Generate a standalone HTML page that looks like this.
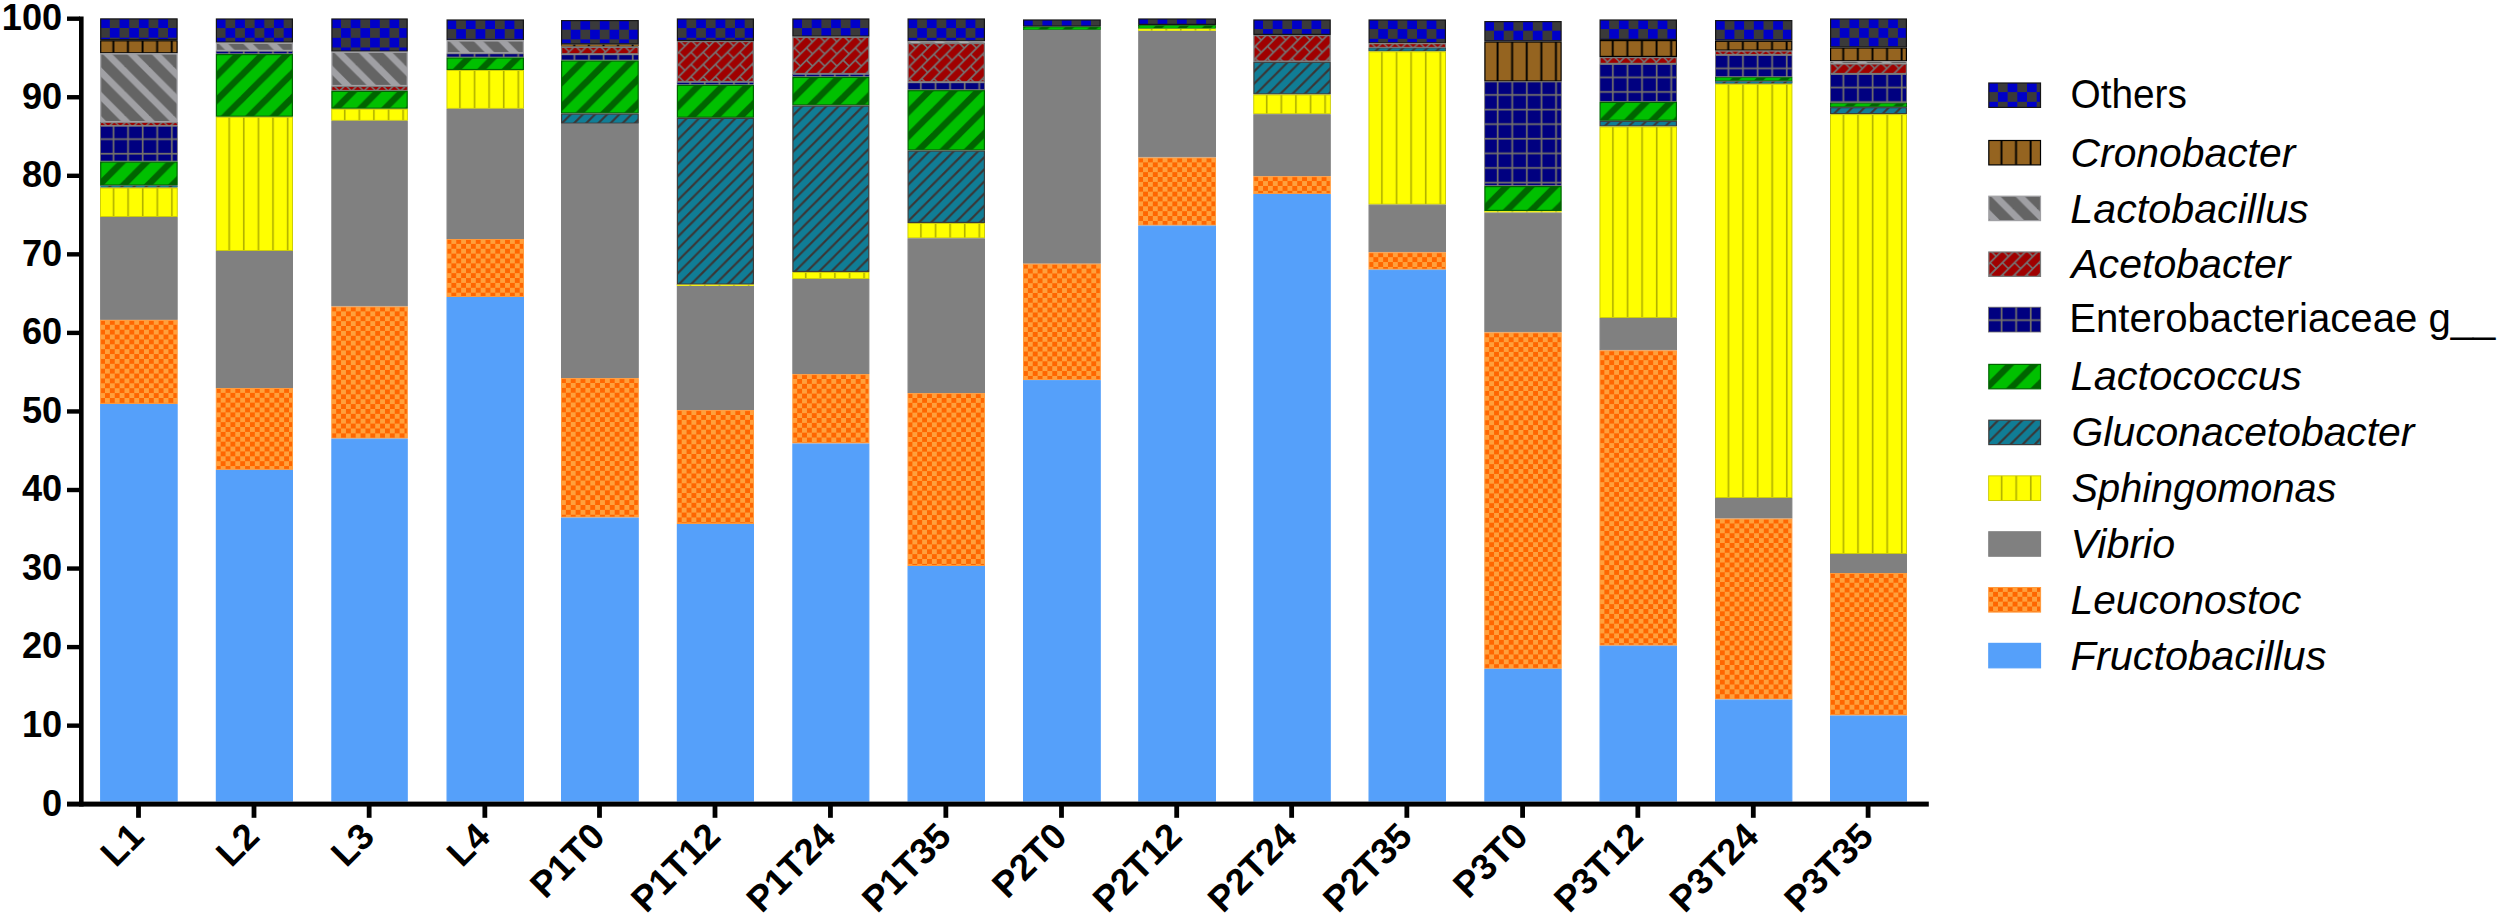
<!DOCTYPE html>
<html lang="en">
<head>
<meta charset="utf-8">
<title>Relative abundance of bacterial genera</title>
<style>
html,body{margin:0;padding:0;background:#fff;}
body{width:2500px;height:917px;overflow:hidden;font-family:"Liberation Sans",Arial,sans-serif;}
svg{display:block;}
</style>
</head>
<body>
<svg width="2500" height="917" viewBox="0 0 2500 917" role="img" aria-label="Stacked bar chart of relative abundance of bacterial genera">
<defs><pattern id="pO" patternUnits="userSpaceOnUse" width="19.4" height="19.4"><rect width="19.4" height="19.4" fill="#3a3a3a"/><rect x="0" y="0" width="9.7" height="9.7" fill="#0000c8"/><rect x="9.7" y="9.7" width="9.7" height="9.7" fill="#0000c8"/></pattern><pattern id="pCr" patternUnits="userSpaceOnUse" width="14.6" height="14.6"><rect width="14.6" height="14.6" fill="#956420"/><rect x="12.3" y="0" width="1.9" height="14.6" fill="#000"/></pattern><pattern id="pLb" patternUnits="userSpaceOnUse" width="24.4" height="24.4"><rect width="24.4" height="24.4" fill="#646464"/><polygon points="-24.40,22.40 48.80,95.60 48.80,86.20 -24.40,13.00" fill="#a0a0a4"/><polygon points="-24.40,-2.00 48.80,71.20 48.80,61.80 -24.40,-11.40" fill="#a0a0a4"/><polygon points="-24.40,-26.40 48.80,46.80 48.80,37.40 -24.40,-35.80" fill="#a0a0a4"/><polygon points="-24.40,-50.80 48.80,22.40 48.80,13.00 -24.40,-60.20" fill="#a0a0a4"/></pattern><pattern id="pAc" patternUnits="userSpaceOnUse" width="24.4" height="24.4"><rect width="24.4" height="24.4" fill="#a00000"/><g stroke="#747474" stroke-width="1.65" stroke-linecap="butt"><line x1="-24.40" y1="13.20" x2="48.80" y2="-60.00"/><line x1="-24.40" y1="25.40" x2="48.80" y2="-47.80"/><line x1="-24.40" y1="37.60" x2="48.80" y2="-35.60"/><line x1="-24.40" y1="49.80" x2="48.80" y2="-23.40"/><line x1="-24.40" y1="62.00" x2="48.80" y2="-11.20"/><line x1="-24.40" y1="74.20" x2="48.80" y2="1.00"/><line x1="2.00" y1="-1.00" x2="8.10" y2="5.10"/><line x1="2.00" y1="11.20" x2="8.10" y2="17.30"/><line x1="14.20" y1="-1.00" x2="20.30" y2="5.10"/><line x1="2.00" y1="23.40" x2="8.10" y2="29.50"/><line x1="14.20" y1="11.20" x2="20.30" y2="17.30"/><line x1="26.40" y1="-1.00" x2="32.50" y2="5.10"/><line x1="14.20" y1="23.40" x2="20.30" y2="29.50"/><line x1="26.40" y1="11.20" x2="32.50" y2="17.30"/><line x1="26.40" y1="23.40" x2="32.50" y2="29.50"/></g></pattern><pattern id="pEn" patternUnits="userSpaceOnUse" width="14.6" height="14.6"><rect width="14.6" height="14.6" fill="#000080"/><rect x="12.5" y="0" width="1.7" height="14.6" fill="#74726a"/><rect x="0" y="12.5" width="14.6" height="1.7" fill="#74726a"/></pattern><pattern id="pLc" patternUnits="userSpaceOnUse" width="24.4" height="24.4"><rect width="24.4" height="24.4" fill="#00c000"/><polygon points="-24.40,18.00 48.80,-55.20 48.80,-46.00 -24.40,27.20" fill="#006400"/><polygon points="-24.40,42.40 48.80,-30.80 48.80,-21.60 -24.40,51.60" fill="#006400"/><polygon points="-24.40,66.80 48.80,-6.40 48.80,2.80 -24.40,76.00" fill="#006400"/><polygon points="-24.40,91.20 48.80,18.00 48.80,27.20 -24.40,100.40" fill="#006400"/></pattern><pattern id="pGl" patternUnits="userSpaceOnUse" width="12.15" height="12.15"><rect width="12.15" height="12.15" fill="#107d96"/><polygon points="-12.15,9.20 24.30,-27.25 24.30,-24.35 -12.15,12.10" fill="#3a3636"/><polygon points="-12.15,21.35 24.30,-15.10 24.30,-12.20 -12.15,24.25" fill="#3a3636"/><polygon points="-12.15,33.50 24.30,-2.95 24.30,-0.05 -12.15,36.40" fill="#3a3636"/><polygon points="-12.15,45.65 24.30,9.20 24.30,12.10 -12.15,48.55" fill="#3a3636"/></pattern><pattern id="pSp" patternUnits="userSpaceOnUse" width="14.6" height="14.6"><rect width="14.6" height="14.6" fill="#ffff00"/><rect x="12.6" y="0" width="1.6" height="14.6" fill="#b0b000"/></pattern><pattern id="pLe" patternUnits="userSpaceOnUse" width="9.76" height="9.76"><rect width="9.76" height="9.76" fill="#ffa03c"/><rect x="0" y="0" width="4.88" height="4.88" fill="#ff6600"/><rect x="4.88" y="4.88" width="4.88" height="4.88" fill="#ff6600"/></pattern></defs>
<g transform="translate(100.10,18.30)"><rect x="0.60" y="0.60" width="76.40" height="20.70" fill="url(#pO)" stroke="#161616" stroke-width="1.20"/></g>
<g transform="translate(100.10,40.20)"><rect x="0.60" y="0.60" width="76.40" height="12.00" fill="url(#pCr)" stroke="#000000" stroke-width="1.20"/></g>
<g transform="translate(100.10,53.40)"><rect x="0.60" y="0.60" width="76.40" height="67.60" fill="url(#pLb)" stroke="#a0a0a4" stroke-width="1.20"/></g>
<g transform="translate(100.10,122.20)"><rect x="0.36" y="0.36" width="76.88" height="2.88" fill="url(#pAc)" stroke="#7a7a7a" stroke-width="0.72"/></g>
<g transform="translate(100.10,125.80)"><rect x="0.40" y="0.40" width="76.80" height="34.90" fill="url(#pEn)" stroke="#706e6c" stroke-width="0.80"/></g>
<g transform="translate(100.10,161.50)"><rect x="0.60" y="0.60" width="76.40" height="22.90" fill="url(#pLc)" stroke="#006400" stroke-width="1.20"/></g>
<g transform="translate(100.10,185.60)"><rect x="0.20" y="0.20" width="77.20" height="1.60" fill="url(#pGl)" stroke="#3c3c3c" stroke-width="0.40"/></g>
<g transform="translate(100.10,187.60)"><rect x="0.45" y="0.45" width="76.70" height="28.50" fill="url(#pSp)" stroke="#c8c800" stroke-width="0.90"/></g>
<g transform="translate(100.10,217.00)"><rect x="0.60" y="0.60" width="76.40" height="101.70" fill="#808080" stroke="#808080" stroke-width="1.20"/></g>
<g transform="translate(100.10,319.90)"><rect x="0.50" y="0.50" width="76.60" height="83.10" fill="url(#pLe)" stroke="#ff9a3c" stroke-width="1.00"/></g>
<g transform="translate(100.10,404.00)"><rect x="0.60" y="0.60" width="76.40" height="396.40" fill="#55a0fa" stroke="#55a0fa" stroke-width="1.20"/></g>
<g transform="translate(215.80,18.40)"><rect x="0.60" y="0.60" width="76.00" height="23.10" fill="url(#pO)" stroke="#161616" stroke-width="1.20"/></g>
<g transform="translate(215.80,42.70)"><rect x="0.60" y="0.60" width="76.00" height="7.10" fill="url(#pLb)" stroke="#a0a0a4" stroke-width="1.20"/></g>
<g transform="translate(215.80,51.00)"><rect x="0.30" y="0.30" width="76.60" height="2.40" fill="url(#pEn)" stroke="#706e6c" stroke-width="0.60"/></g>
<g transform="translate(215.80,54.00)"><rect x="0.60" y="0.60" width="76.00" height="61.60" fill="url(#pLc)" stroke="#006400" stroke-width="1.20"/></g>
<g transform="translate(215.80,116.80)"><rect x="0.45" y="0.45" width="76.30" height="133.30" fill="url(#pSp)" stroke="#c8c800" stroke-width="0.90"/></g>
<g transform="translate(215.80,251.00)"><rect x="0.60" y="0.60" width="76.00" height="135.80" fill="#808080" stroke="#808080" stroke-width="1.20"/></g>
<g transform="translate(215.80,388.00)"><rect x="0.50" y="0.50" width="76.20" height="80.90" fill="url(#pLe)" stroke="#ff9a3c" stroke-width="1.00"/></g>
<g transform="translate(215.80,469.90)"><rect x="0.60" y="0.60" width="76.00" height="330.50" fill="#55a0fa" stroke="#55a0fa" stroke-width="1.20"/></g>
<g transform="translate(331.30,18.40)"><rect x="0.60" y="0.60" width="75.30" height="32.10" fill="url(#pO)" stroke="#161616" stroke-width="1.20"/></g>
<g transform="translate(331.30,51.70)"><rect x="0.60" y="0.60" width="75.30" height="33.20" fill="url(#pLb)" stroke="#a0a0a4" stroke-width="1.20"/></g>
<g transform="translate(331.30,86.10)"><rect x="0.47" y="0.47" width="75.56" height="3.76" fill="url(#pAc)" stroke="#7a7a7a" stroke-width="0.94"/></g>
<g transform="translate(331.30,90.80)"><rect x="0.60" y="0.60" width="75.30" height="16.80" fill="url(#pLc)" stroke="#006400" stroke-width="1.20"/></g>
<g transform="translate(331.30,108.80)"><rect x="0.45" y="0.45" width="75.60" height="11.10" fill="url(#pSp)" stroke="#c8c800" stroke-width="0.90"/></g>
<g transform="translate(331.30,120.80)"><rect x="0.60" y="0.60" width="75.30" height="184.50" fill="#808080" stroke="#808080" stroke-width="1.20"/></g>
<g transform="translate(331.30,306.50)"><rect x="0.50" y="0.50" width="75.50" height="131.10" fill="url(#pLe)" stroke="#ff9a3c" stroke-width="1.00"/></g>
<g transform="translate(331.30,438.60)"><rect x="0.60" y="0.60" width="75.30" height="361.80" fill="#55a0fa" stroke="#55a0fa" stroke-width="1.20"/></g>
<g transform="translate(446.50,19.40)"><rect x="0.60" y="0.60" width="76.30" height="19.80" fill="url(#pO)" stroke="#161616" stroke-width="1.20"/></g>
<g transform="translate(446.50,40.40)"><rect x="0.60" y="0.60" width="76.30" height="11.80" fill="url(#pLb)" stroke="#a0a0a4" stroke-width="1.20"/></g>
<g transform="translate(446.50,53.40)"><rect x="0.40" y="0.40" width="76.70" height="3.20" fill="url(#pEn)" stroke="#706e6c" stroke-width="0.80"/></g>
<g transform="translate(446.50,57.40)"><rect x="0.60" y="0.60" width="76.30" height="11.50" fill="url(#pLc)" stroke="#006400" stroke-width="1.20"/></g>
<g transform="translate(446.50,70.10)"><rect x="0.45" y="0.45" width="76.60" height="37.80" fill="url(#pSp)" stroke="#c8c800" stroke-width="0.90"/></g>
<g transform="translate(446.50,108.80)"><rect x="0.60" y="0.60" width="76.30" height="129.00" fill="#808080" stroke="#808080" stroke-width="1.20"/></g>
<g transform="translate(446.50,239.00)"><rect x="0.50" y="0.50" width="76.50" height="57.00" fill="url(#pLe)" stroke="#ff9a3c" stroke-width="1.00"/></g>
<g transform="translate(446.50,297.00)"><rect x="0.60" y="0.60" width="76.30" height="503.40" fill="#55a0fa" stroke="#55a0fa" stroke-width="1.20"/></g>
<g transform="translate(561.00,20.00)"><rect x="0.60" y="0.60" width="76.60" height="23.20" fill="url(#pO)" stroke="#161616" stroke-width="1.20"/></g>
<g transform="translate(561.00,44.40)"><rect x="0.23" y="0.23" width="77.34" height="1.84" fill="url(#pCr)" stroke="#000000" stroke-width="0.46"/></g>
<g transform="translate(561.00,46.70)"><rect x="0.60" y="0.60" width="76.60" height="6.50" fill="url(#pAc)" stroke="#7a7a7a" stroke-width="1.20"/></g>
<g transform="translate(561.00,54.40)"><rect x="0.40" y="0.40" width="77.00" height="5.20" fill="url(#pEn)" stroke="#706e6c" stroke-width="0.80"/></g>
<g transform="translate(561.00,60.40)"><rect x="0.60" y="0.60" width="76.60" height="51.90" fill="url(#pLc)" stroke="#006400" stroke-width="1.20"/></g>
<g transform="translate(561.00,113.50)"><rect x="0.60" y="0.60" width="76.60" height="9.10" fill="url(#pGl)" stroke="#3c3c3c" stroke-width="1.20"/></g>
<g transform="translate(561.00,123.80)"><rect x="0.60" y="0.60" width="76.60" height="253.10" fill="#808080" stroke="#808080" stroke-width="1.20"/></g>
<g transform="translate(561.00,378.10)"><rect x="0.50" y="0.50" width="76.80" height="138.50" fill="url(#pLe)" stroke="#ff9a3c" stroke-width="1.00"/></g>
<g transform="translate(561.00,517.60)"><rect x="0.60" y="0.60" width="76.60" height="282.80" fill="#55a0fa" stroke="#55a0fa" stroke-width="1.20"/></g>
<g transform="translate(676.80,18.40)"><rect x="0.60" y="0.60" width="76.00" height="21.40" fill="url(#pO)" stroke="#161616" stroke-width="1.20"/></g>
<g transform="translate(676.80,41.00)"><rect x="0.60" y="0.60" width="76.00" height="39.90" fill="url(#pAc)" stroke="#7a7a7a" stroke-width="1.20"/></g>
<g transform="translate(676.80,82.10)"><rect x="0.27" y="0.27" width="76.66" height="2.16" fill="url(#pEn)" stroke="#706e6c" stroke-width="0.54"/></g>
<g transform="translate(676.80,84.80)"><rect x="0.60" y="0.60" width="76.00" height="31.80" fill="url(#pLc)" stroke="#006400" stroke-width="1.20"/></g>
<g transform="translate(676.80,117.80)"><rect x="0.60" y="0.60" width="76.00" height="165.70" fill="url(#pGl)" stroke="#3c3c3c" stroke-width="1.20"/></g>
<g transform="translate(676.80,284.70)"><rect x="0.13" y="0.13" width="76.94" height="1.04" fill="url(#pSp)" stroke="#c8c800" stroke-width="0.26"/></g>
<g transform="translate(676.80,286.00)"><rect x="0.60" y="0.60" width="76.00" height="122.90" fill="#808080" stroke="#808080" stroke-width="1.20"/></g>
<g transform="translate(676.80,410.10)"><rect x="0.50" y="0.50" width="76.20" height="112.90" fill="url(#pLe)" stroke="#ff9a3c" stroke-width="1.00"/></g>
<g transform="translate(676.80,524.00)"><rect x="0.60" y="0.60" width="76.00" height="276.40" fill="#55a0fa" stroke="#55a0fa" stroke-width="1.20"/></g>
<g transform="translate(792.30,18.40)"><rect x="0.60" y="0.60" width="75.90" height="17.10" fill="url(#pO)" stroke="#161616" stroke-width="1.20"/></g>
<g transform="translate(792.30,36.70)"><rect x="0.60" y="0.60" width="75.90" height="36.20" fill="url(#pAc)" stroke="#7a7a7a" stroke-width="1.20"/></g>
<g transform="translate(792.30,74.10)"><rect x="0.27" y="0.27" width="76.56" height="2.16" fill="url(#pEn)" stroke="#706e6c" stroke-width="0.54"/></g>
<g transform="translate(792.30,76.80)"><rect x="0.60" y="0.60" width="75.90" height="27.50" fill="url(#pLc)" stroke="#006400" stroke-width="1.20"/></g>
<g transform="translate(792.30,105.50)"><rect x="0.60" y="0.60" width="75.90" height="165.30" fill="url(#pGl)" stroke="#3c3c3c" stroke-width="1.20"/></g>
<g transform="translate(792.30,272.00)"><rect x="0.45" y="0.45" width="76.20" height="6.10" fill="url(#pSp)" stroke="#c8c800" stroke-width="0.90"/></g>
<g transform="translate(792.30,279.00)"><rect x="0.60" y="0.60" width="75.90" height="93.90" fill="#808080" stroke="#808080" stroke-width="1.20"/></g>
<g transform="translate(792.30,374.10)"><rect x="0.50" y="0.50" width="76.10" height="68.40" fill="url(#pLe)" stroke="#ff9a3c" stroke-width="1.00"/></g>
<g transform="translate(792.30,443.50)"><rect x="0.60" y="0.60" width="75.90" height="356.90" fill="#55a0fa" stroke="#55a0fa" stroke-width="1.20"/></g>
<g transform="translate(907.50,18.40)"><rect x="0.60" y="0.60" width="76.30" height="21.80" fill="url(#pO)" stroke="#161616" stroke-width="1.20"/></g>
<g transform="translate(907.50,41.40)"><rect x="0.16" y="0.16" width="77.18" height="1.28" fill="url(#pLb)" stroke="#a0a0a4" stroke-width="0.32"/></g>
<g transform="translate(907.50,43.00)"><rect x="0.60" y="0.60" width="76.30" height="38.20" fill="url(#pAc)" stroke="#7a7a7a" stroke-width="1.20"/></g>
<g transform="translate(907.50,82.40)"><rect x="0.40" y="0.40" width="76.70" height="6.90" fill="url(#pEn)" stroke="#706e6c" stroke-width="0.80"/></g>
<g transform="translate(907.50,90.10)"><rect x="0.60" y="0.60" width="76.30" height="59.20" fill="url(#pLc)" stroke="#006400" stroke-width="1.20"/></g>
<g transform="translate(907.50,150.50)"><rect x="0.60" y="0.60" width="76.30" height="71.30" fill="url(#pGl)" stroke="#3c3c3c" stroke-width="1.20"/></g>
<g transform="translate(907.50,223.00)"><rect x="0.45" y="0.45" width="76.60" height="14.40" fill="url(#pSp)" stroke="#c8c800" stroke-width="0.90"/></g>
<g transform="translate(907.50,238.30)"><rect x="0.60" y="0.60" width="76.30" height="153.60" fill="#808080" stroke="#808080" stroke-width="1.20"/></g>
<g transform="translate(907.50,393.10)"><rect x="0.50" y="0.50" width="76.50" height="171.90" fill="url(#pLe)" stroke="#ff9a3c" stroke-width="1.00"/></g>
<g transform="translate(907.50,566.00)"><rect x="0.60" y="0.60" width="76.30" height="234.40" fill="#55a0fa" stroke="#55a0fa" stroke-width="1.20"/></g>
<g transform="translate(1023.00,19.40)"><rect x="0.60" y="0.60" width="76.60" height="6.10" fill="url(#pO)" stroke="#161616" stroke-width="1.20"/></g>
<g transform="translate(1023.00,26.70)"><rect x="0.33" y="0.33" width="77.14" height="2.64" fill="url(#pLc)" stroke="#006400" stroke-width="0.66"/></g>
<g transform="translate(1023.00,30.00)"><rect x="0.60" y="0.60" width="76.60" height="232.50" fill="#808080" stroke="#808080" stroke-width="1.20"/></g>
<g transform="translate(1023.00,263.70)"><rect x="0.50" y="0.50" width="76.80" height="115.40" fill="url(#pLe)" stroke="#ff9a3c" stroke-width="1.00"/></g>
<g transform="translate(1023.00,380.10)"><rect x="0.60" y="0.60" width="76.60" height="420.30" fill="#55a0fa" stroke="#55a0fa" stroke-width="1.20"/></g>
<g transform="translate(1138.20,18.40)"><rect x="0.60" y="0.60" width="76.60" height="5.40" fill="url(#pO)" stroke="#161616" stroke-width="1.20"/></g>
<g transform="translate(1138.20,25.00)"><rect x="0.37" y="0.37" width="77.06" height="2.96" fill="url(#pLc)" stroke="#006400" stroke-width="0.74"/></g>
<g transform="translate(1138.20,28.70)"><rect x="0.23" y="0.23" width="77.34" height="1.84" fill="url(#pSp)" stroke="#c8c800" stroke-width="0.46"/></g>
<g transform="translate(1138.20,31.00)"><rect x="0.60" y="0.60" width="76.60" height="125.30" fill="#808080" stroke="#808080" stroke-width="1.20"/></g>
<g transform="translate(1138.20,157.50)"><rect x="0.50" y="0.50" width="76.80" height="67.10" fill="url(#pLe)" stroke="#ff9a3c" stroke-width="1.00"/></g>
<g transform="translate(1138.20,225.60)"><rect x="0.60" y="0.60" width="76.60" height="574.80" fill="#55a0fa" stroke="#55a0fa" stroke-width="1.20"/></g>
<g transform="translate(1253.30,19.40)"><rect x="0.60" y="0.60" width="76.30" height="14.40" fill="url(#pO)" stroke="#161616" stroke-width="1.20"/></g>
<g transform="translate(1253.30,35.00)"><rect x="0.60" y="0.60" width="76.30" height="25.50" fill="url(#pAc)" stroke="#7a7a7a" stroke-width="1.20"/></g>
<g transform="translate(1253.30,61.70)"><rect x="0.60" y="0.60" width="76.30" height="31.60" fill="url(#pGl)" stroke="#3c3c3c" stroke-width="1.20"/></g>
<g transform="translate(1253.30,94.50)"><rect x="0.45" y="0.45" width="76.60" height="18.80" fill="url(#pSp)" stroke="#c8c800" stroke-width="0.90"/></g>
<g transform="translate(1253.30,114.20)"><rect x="0.60" y="0.60" width="76.30" height="60.80" fill="#808080" stroke="#808080" stroke-width="1.20"/></g>
<g transform="translate(1253.30,176.20)"><rect x="0.50" y="0.50" width="76.50" height="16.80" fill="url(#pLe)" stroke="#ff9a3c" stroke-width="1.00"/></g>
<g transform="translate(1253.30,194.00)"><rect x="0.60" y="0.60" width="76.30" height="606.40" fill="#55a0fa" stroke="#55a0fa" stroke-width="1.20"/></g>
<g transform="translate(1368.50,19.40)"><rect x="0.60" y="0.60" width="76.30" height="22.80" fill="url(#pO)" stroke="#161616" stroke-width="1.20"/></g>
<g transform="translate(1368.50,43.40)"><rect x="0.43" y="0.43" width="76.64" height="3.44" fill="url(#pAc)" stroke="#7a7a7a" stroke-width="0.86"/></g>
<g transform="translate(1368.50,47.70)"><rect x="0.37" y="0.37" width="76.76" height="2.96" fill="url(#pGl)" stroke="#3c3c3c" stroke-width="0.74"/></g>
<g transform="translate(1368.50,51.40)"><rect x="0.45" y="0.45" width="76.60" height="152.30" fill="url(#pSp)" stroke="#c8c800" stroke-width="0.90"/></g>
<g transform="translate(1368.50,204.60)"><rect x="0.60" y="0.60" width="76.30" height="46.50" fill="#808080" stroke="#808080" stroke-width="1.20"/></g>
<g transform="translate(1368.50,252.30)"><rect x="0.50" y="0.50" width="76.50" height="16.40" fill="url(#pLe)" stroke="#ff9a3c" stroke-width="1.00"/></g>
<g transform="translate(1368.50,269.70)"><rect x="0.60" y="0.60" width="76.30" height="530.70" fill="#55a0fa" stroke="#55a0fa" stroke-width="1.20"/></g>
<g transform="translate(1484.30,21.00)"><rect x="0.60" y="0.60" width="76.20" height="19.20" fill="url(#pO)" stroke="#161616" stroke-width="1.20"/></g>
<g transform="translate(1484.30,41.40)"><rect x="0.60" y="0.60" width="76.20" height="39.00" fill="url(#pCr)" stroke="#000000" stroke-width="1.20"/></g>
<g transform="translate(1484.30,81.60)"><rect x="0.40" y="0.40" width="76.60" height="103.60" fill="url(#pEn)" stroke="#706e6c" stroke-width="0.80"/></g>
<g transform="translate(1484.30,186.00)"><rect x="0.60" y="0.60" width="76.20" height="23.80" fill="url(#pLc)" stroke="#006400" stroke-width="1.20"/></g>
<g transform="translate(1484.30,211.00)"><rect x="0.16" y="0.16" width="77.08" height="1.28" fill="url(#pSp)" stroke="#c8c800" stroke-width="0.32"/></g>
<g transform="translate(1484.30,212.60)"><rect x="0.60" y="0.60" width="76.20" height="118.60" fill="#808080" stroke="#808080" stroke-width="1.20"/></g>
<g transform="translate(1484.30,332.40)"><rect x="0.50" y="0.50" width="76.40" height="335.40" fill="url(#pLe)" stroke="#ff9a3c" stroke-width="1.00"/></g>
<g transform="translate(1484.30,668.80)"><rect x="0.60" y="0.60" width="76.20" height="131.60" fill="#55a0fa" stroke="#55a0fa" stroke-width="1.20"/></g>
<g transform="translate(1599.50,19.40)"><rect x="0.60" y="0.60" width="76.30" height="19.40" fill="url(#pO)" stroke="#161616" stroke-width="1.20"/></g>
<g transform="translate(1599.50,40.00)"><rect x="0.60" y="0.60" width="76.30" height="15.80" fill="url(#pCr)" stroke="#000000" stroke-width="1.20"/></g>
<g transform="translate(1599.50,57.00)"><rect x="0.60" y="0.60" width="76.30" height="5.80" fill="url(#pAc)" stroke="#7a7a7a" stroke-width="1.20"/></g>
<g transform="translate(1599.50,64.00)"><rect x="0.40" y="0.40" width="76.70" height="37.00" fill="url(#pEn)" stroke="#706e6c" stroke-width="0.80"/></g>
<g transform="translate(1599.50,101.80)"><rect x="0.60" y="0.60" width="76.30" height="17.80" fill="url(#pLc)" stroke="#006400" stroke-width="1.20"/></g>
<g transform="translate(1599.50,120.80)"><rect x="0.57" y="0.57" width="76.36" height="4.56" fill="url(#pGl)" stroke="#3c3c3c" stroke-width="1.14"/></g>
<g transform="translate(1599.50,126.50)"><rect x="0.45" y="0.45" width="76.60" height="190.60" fill="url(#pSp)" stroke="#c8c800" stroke-width="0.90"/></g>
<g transform="translate(1599.50,318.00)"><rect x="0.60" y="0.60" width="76.30" height="31.20" fill="#808080" stroke="#808080" stroke-width="1.20"/></g>
<g transform="translate(1599.50,350.40)"><rect x="0.50" y="0.50" width="76.50" height="294.30" fill="url(#pLe)" stroke="#ff9a3c" stroke-width="1.00"/></g>
<g transform="translate(1599.50,645.70)"><rect x="0.60" y="0.60" width="76.30" height="154.70" fill="#55a0fa" stroke="#55a0fa" stroke-width="1.20"/></g>
<g transform="translate(1715.00,20.00)"><rect x="0.60" y="0.60" width="76.20" height="19.50" fill="url(#pO)" stroke="#161616" stroke-width="1.20"/></g>
<g transform="translate(1715.00,40.70)"><rect x="0.60" y="0.60" width="76.20" height="8.80" fill="url(#pCr)" stroke="#000000" stroke-width="1.20"/></g>
<g transform="translate(1715.00,50.70)"><rect x="0.43" y="0.43" width="76.54" height="3.44" fill="url(#pAc)" stroke="#7a7a7a" stroke-width="0.86"/></g>
<g transform="translate(1715.00,55.00)"><rect x="0.40" y="0.40" width="76.60" height="21.30" fill="url(#pEn)" stroke="#706e6c" stroke-width="0.80"/></g>
<g transform="translate(1715.00,77.10)"><rect x="0.40" y="0.40" width="76.60" height="3.20" fill="url(#pLc)" stroke="#006400" stroke-width="0.80"/></g>
<g transform="translate(1715.00,81.10)"><rect x="0.27" y="0.27" width="76.86" height="2.16" fill="url(#pGl)" stroke="#3c3c3c" stroke-width="0.54"/></g>
<g transform="translate(1715.00,83.80)"><rect x="0.45" y="0.45" width="76.50" height="413.30" fill="url(#pSp)" stroke="#c8c800" stroke-width="0.90"/></g>
<g transform="translate(1715.00,498.00)"><rect x="0.60" y="0.60" width="76.20" height="19.40" fill="#808080" stroke="#808080" stroke-width="1.20"/></g>
<g transform="translate(1715.00,518.60)"><rect x="0.50" y="0.50" width="76.40" height="179.90" fill="url(#pLe)" stroke="#ff9a3c" stroke-width="1.00"/></g>
<g transform="translate(1715.00,699.50)"><rect x="0.60" y="0.60" width="76.20" height="100.90" fill="#55a0fa" stroke="#55a0fa" stroke-width="1.20"/></g>
<g transform="translate(1830.00,18.40)"><rect x="0.60" y="0.60" width="75.80" height="27.80" fill="url(#pO)" stroke="#161616" stroke-width="1.20"/></g>
<g transform="translate(1830.00,47.40)"><rect x="0.60" y="0.60" width="75.80" height="12.80" fill="url(#pCr)" stroke="#000000" stroke-width="1.20"/></g>
<g transform="translate(1830.00,61.40)"><rect x="0.20" y="0.20" width="76.60" height="1.60" fill="url(#pLb)" stroke="#a0a0a4" stroke-width="0.40"/></g>
<g transform="translate(1830.00,63.40)"><rect x="0.60" y="0.60" width="75.80" height="9.50" fill="url(#pAc)" stroke="#7a7a7a" stroke-width="1.20"/></g>
<g transform="translate(1830.00,74.10)"><rect x="0.40" y="0.40" width="76.20" height="27.90" fill="url(#pEn)" stroke="#706e6c" stroke-width="0.80"/></g>
<g transform="translate(1830.00,102.80)"><rect x="0.43" y="0.43" width="76.14" height="3.44" fill="url(#pLc)" stroke="#006400" stroke-width="0.86"/></g>
<g transform="translate(1830.00,107.10)"><rect x="0.60" y="0.60" width="75.80" height="5.90" fill="url(#pGl)" stroke="#3c3c3c" stroke-width="1.20"/></g>
<g transform="translate(1830.00,114.20)"><rect x="0.45" y="0.45" width="76.10" height="438.90" fill="url(#pSp)" stroke="#c8c800" stroke-width="0.90"/></g>
<g transform="translate(1830.00,554.00)"><rect x="0.60" y="0.60" width="75.80" height="17.80" fill="#808080" stroke="#808080" stroke-width="1.20"/></g>
<g transform="translate(1830.00,573.00)"><rect x="0.50" y="0.50" width="76.00" height="141.50" fill="url(#pLe)" stroke="#ff9a3c" stroke-width="1.00"/></g>
<g transform="translate(1830.00,715.50)"><rect x="0.60" y="0.60" width="75.80" height="84.90" fill="#55a0fa" stroke="#55a0fa" stroke-width="1.20"/></g>
<g fill="#000">
<rect x="79.0" y="16.5" width="4.6" height="790"/>
<rect x="67.0" y="801.6" width="1861.8" height="5.0"/>
<rect x="67.0" y="723.45" width="13" height="4.4"/>
<rect x="67.0" y="644.90" width="13" height="4.4"/>
<rect x="67.0" y="566.35" width="13" height="4.4"/>
<rect x="67.0" y="487.80" width="13" height="4.4"/>
<rect x="67.0" y="409.25" width="13" height="4.4"/>
<rect x="67.0" y="330.70" width="13" height="4.4"/>
<rect x="67.0" y="252.15" width="13" height="4.4"/>
<rect x="67.0" y="173.60" width="13" height="4.4"/>
<rect x="67.0" y="95.05" width="13" height="4.4"/>
<rect x="67.0" y="16.50" width="13" height="4.4"/>
<rect x="136.10" y="805" width="4.8" height="12.8"/>
<rect x="251.60" y="805" width="4.8" height="12.8"/>
<rect x="366.75" y="805" width="4.8" height="12.8"/>
<rect x="482.45" y="805" width="4.8" height="12.8"/>
<rect x="597.10" y="805" width="4.8" height="12.8"/>
<rect x="712.60" y="805" width="4.8" height="12.8"/>
<rect x="828.05" y="805" width="4.8" height="12.8"/>
<rect x="943.45" y="805" width="4.8" height="12.8"/>
<rect x="1059.10" y="805" width="4.8" height="12.8"/>
<rect x="1174.30" y="805" width="4.8" height="12.8"/>
<rect x="1289.25" y="805" width="4.8" height="12.8"/>
<rect x="1404.45" y="805" width="4.8" height="12.8"/>
<rect x="1520.20" y="805" width="4.8" height="12.8"/>
<rect x="1635.45" y="805" width="4.8" height="12.8"/>
<rect x="1750.90" y="805" width="4.8" height="12.8"/>
<rect x="1865.70" y="805" width="4.8" height="12.8"/>
</g>
<g font-family="'Liberation Sans', Arial, sans-serif" font-weight="bold" font-size="36.2" fill="#000" text-anchor="end">
<text x="62.2" y="815.50">0</text>
<text x="62.2" y="736.95">10</text>
<text x="62.2" y="658.40">20</text>
<text x="62.2" y="579.85">30</text>
<text x="62.2" y="501.30">40</text>
<text x="62.2" y="422.75">50</text>
<text x="62.2" y="344.20">60</text>
<text x="62.2" y="265.65">70</text>
<text x="62.2" y="187.10">80</text>
<text x="62.2" y="108.55">90</text>
<text x="62.2" y="30.00">100</text>
</g>
<g font-family="'Liberation Sans', Arial, sans-serif" font-weight="bold" font-size="36.4" fill="#000" text-anchor="end">
<text transform="translate(145.70,838.40) rotate(-45)" dx="0 0">L1</text>
<text transform="translate(261.20,838.40) rotate(-45)" dx="0 0">L2</text>
<text transform="translate(376.35,838.40) rotate(-45)" dx="0 0">L3</text>
<text transform="translate(492.05,838.40) rotate(-45)" dx="0 0">L4</text>
<text transform="translate(606.70,838.40) rotate(-45)" dx="0 0 0 0">P1T0</text>
<text transform="translate(722.20,838.40) rotate(-45)" dx="0 0 0 0 0">P1T12</text>
<text transform="translate(837.65,838.40) rotate(-45)" dx="0 0 0 0 0">P1T24</text>
<text transform="translate(953.05,838.40) rotate(-45)" dx="0 0 0 0 0">P1T35</text>
<text transform="translate(1068.70,838.40) rotate(-45)" dx="0 0 0 0">P2T0</text>
<text transform="translate(1183.90,838.40) rotate(-45)" dx="0 0 0 0 0">P2T12</text>
<text transform="translate(1298.85,838.40) rotate(-45)" dx="0 0 0 0 0">P2T24</text>
<text transform="translate(1414.05,838.40) rotate(-45)" dx="0 0 0 0 0">P2T35</text>
<text transform="translate(1529.80,838.40) rotate(-45)" dx="0 0 0 0">P3T0</text>
<text transform="translate(1645.05,838.40) rotate(-45)" dx="0 0 0 0 0">P3T12</text>
<text transform="translate(1760.50,838.40) rotate(-45)" dx="0 0 0 0 0">P3T24</text>
<text transform="translate(1875.30,838.40) rotate(-45)" dx="0 0 0 0 0">P3T35</text>
</g>
<g transform="translate(1988.20,82.40)"><rect x="0.60" y="0.60" width="51.70" height="24.40" fill="url(#pO)" stroke="#161616" stroke-width="1.20"/></g>
<text id="lg0" x="2070.48" y="108.30" font-family="'Liberation Sans', Arial, sans-serif" font-size="40.5" fill="#000" textLength="116.45" lengthAdjust="spacingAndGlyphs">Others</text>
<g transform="translate(1988.20,139.90)"><rect x="0.60" y="0.60" width="51.70" height="24.40" fill="url(#pCr)" stroke="#000000" stroke-width="1.20"/></g>
<text id="lg1" x="2070.58" y="166.50" font-family="'Liberation Sans', Arial, sans-serif" font-size="40.5" font-style="italic" fill="#000" textLength="224.70" lengthAdjust="spacingAndGlyphs">Cronobacter</text>
<g transform="translate(1988.20,195.60)"><rect x="0.60" y="0.60" width="51.70" height="24.40" fill="url(#pLb)" stroke="#a0a0a4" stroke-width="1.20"/></g>
<text id="lg2" x="2070.37" y="222.50" font-family="'Liberation Sans', Arial, sans-serif" font-size="40.5" font-style="italic" fill="#000" textLength="238.37" lengthAdjust="spacingAndGlyphs">Lactobacillus</text>
<g transform="translate(1988.20,251.40)"><rect x="0.60" y="0.60" width="51.70" height="24.40" fill="url(#pAc)" stroke="#7a7a7a" stroke-width="1.20"/></g>
<text id="lg3" x="2071.22" y="278.30" font-family="'Liberation Sans', Arial, sans-serif" font-size="40.5" font-style="italic" fill="#000" textLength="219.20" lengthAdjust="spacingAndGlyphs">Acetobacter</text>
<g transform="translate(1988.20,306.80)"><rect x="0.40" y="0.40" width="52.10" height="24.80" fill="url(#pEn)" stroke="#706e6c" stroke-width="0.80"/></g>
<text id="lg4" x="2069.23" y="332.00" font-family="'Liberation Sans', Arial, sans-serif" font-size="40.5" fill="#000" textLength="426.23" lengthAdjust="spacingAndGlyphs">Enterobacteriaceae g__</text>
<g transform="translate(1988.20,363.80)"><rect x="0.60" y="0.60" width="51.70" height="24.40" fill="url(#pLc)" stroke="#006400" stroke-width="1.20"/></g>
<text id="lg5" x="2070.57" y="390.40" font-family="'Liberation Sans', Arial, sans-serif" font-size="40.5" font-style="italic" fill="#000" textLength="231.18" lengthAdjust="spacingAndGlyphs">Lactococcus</text>
<g transform="translate(1988.20,419.60)"><rect x="0.60" y="0.60" width="51.70" height="24.40" fill="url(#pGl)" stroke="#3c3c3c" stroke-width="1.20"/></g>
<text id="lg6" x="2071.57" y="445.90" font-family="'Liberation Sans', Arial, sans-serif" font-size="40.5" font-style="italic" fill="#000" textLength="342.89" lengthAdjust="spacingAndGlyphs">Gluconacetobacter</text>
<g transform="translate(1988.20,475.40)"><rect x="0.45" y="0.45" width="52.00" height="24.70" fill="url(#pSp)" stroke="#c8c800" stroke-width="0.90"/></g>
<text id="lg7" x="2071.62" y="501.60" font-family="'Liberation Sans', Arial, sans-serif" font-size="40.5" font-style="italic" fill="#000" textLength="264.76" lengthAdjust="spacingAndGlyphs">Sphingomonas</text>
<g transform="translate(1988.20,531.20)"><rect x="0.60" y="0.60" width="51.70" height="24.40" fill="#808080" stroke="#808080" stroke-width="1.20"/></g>
<text id="lg8" x="2070.53" y="557.80" font-family="'Liberation Sans', Arial, sans-serif" font-size="40.5" font-style="italic" fill="#000" textLength="104.70" lengthAdjust="spacingAndGlyphs">Vibrio</text>
<g transform="translate(1988.20,587.00)"><rect x="0.50" y="0.50" width="51.90" height="24.60" fill="url(#pLe)" stroke="#ff9a3c" stroke-width="1.00"/></g>
<text id="lg9" x="2070.60" y="614.00" font-family="'Liberation Sans', Arial, sans-serif" font-size="40.5" font-style="italic" fill="#000" textLength="230.68" lengthAdjust="spacingAndGlyphs">Leuconostoc</text>
<g transform="translate(1988.20,642.80)"><rect x="0.60" y="0.60" width="51.70" height="24.40" fill="#55a0fa" stroke="#55a0fa" stroke-width="1.20"/></g>
<text id="lg10" x="2070.58" y="669.80" font-family="'Liberation Sans', Arial, sans-serif" font-size="40.5" font-style="italic" fill="#000" textLength="255.78" lengthAdjust="spacingAndGlyphs">Fructobacillus</text>
</svg>
</body>
</html>
